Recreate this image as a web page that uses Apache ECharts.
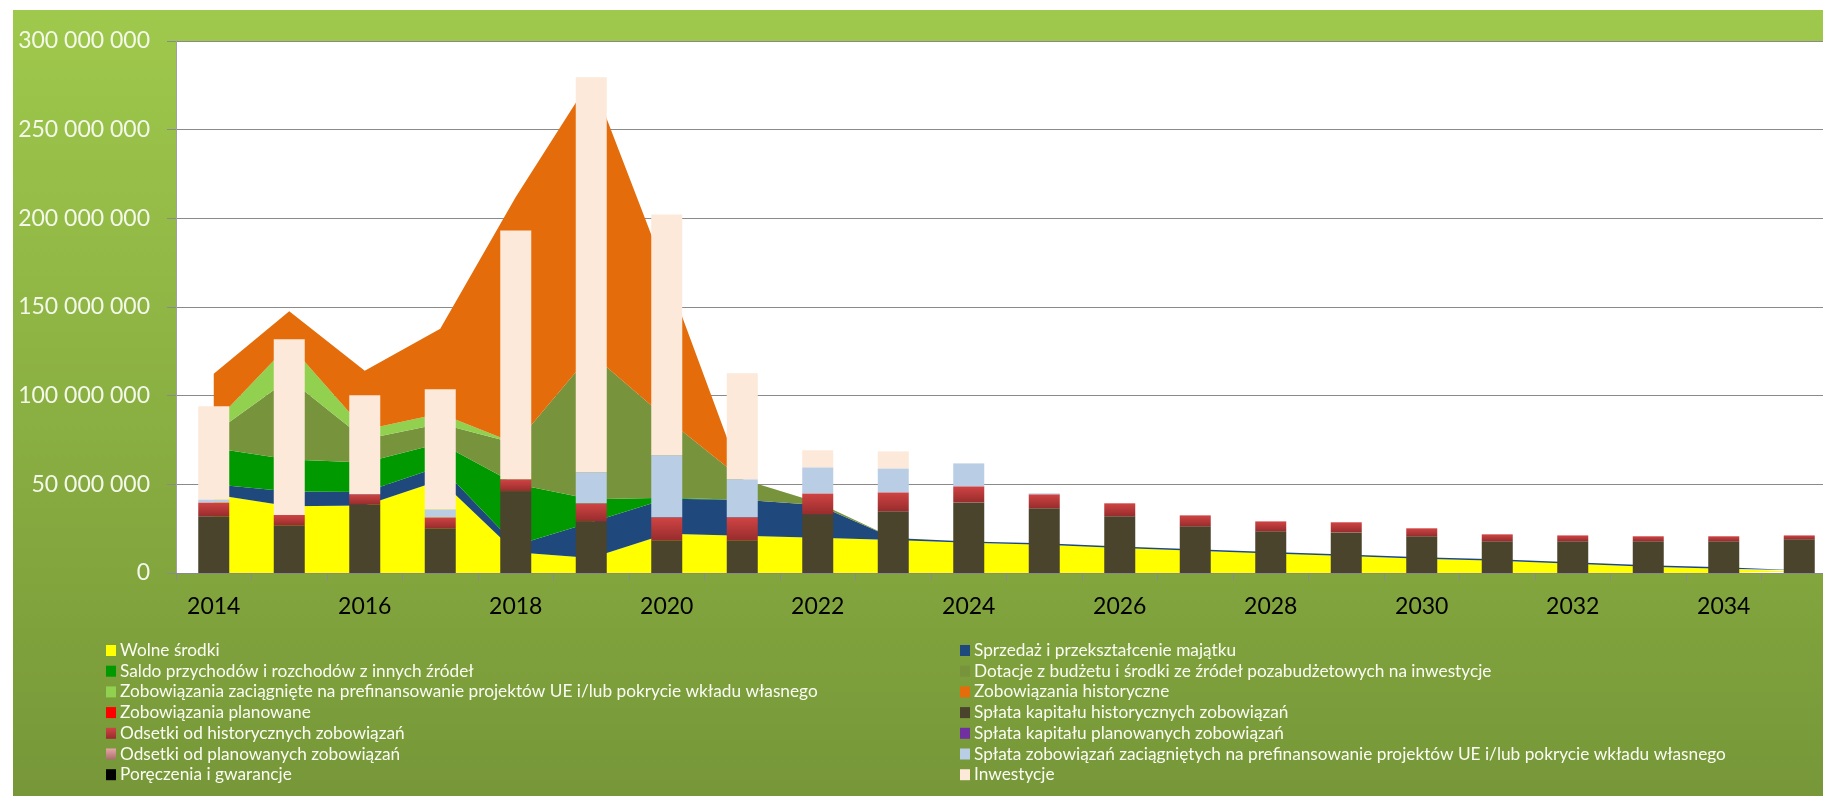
<!DOCTYPE html>
<html>
<head>
<meta charset="utf-8">
<script src="https://cdn.jsdelivr.net/npm/echarts@6/dist/echarts.min.js"></script>
<style>
  html, body { margin: 0; padding: 0; background: #ffffff; }
  #chart { width: 1823px; height: 796px; }
</style>
</head>
<body>
<div id="chart"></div>
<script>
// Lata prognozy
const years = ['2014','2015','2016','2017','2018','2019','2020','2021','2022','2023','2024',
               '2025','2026','2027','2028','2029','2030','2031','2032','2033','2034','2035'];

// Źródła finansowania (warstwy powierzchniowe), w mln zł
const wolneSrodki      = [44.2, 37.6, 38.0, 52.3, 11.7, 8.4, 22.2, 21.0, 19.9, 18.6, 17.0, 16.0, 14.1, 12.6, 11.0, 9.6, 8.1, 6.9, 5.2, 3.5, 2.4, 0.7];
const sprzedazMajatku  = [5.8, 8.4, 7.7, 7.7, 3.9, 20.2, 19.7, 20.3, 18.5, 1.1, 0.8, 0.8, 0.8, 0.8, 0.8, 0.8, 0.8, 0.8, 0.8, 0.8, 0.8, 0.8];
const saldoInnych      = [20.5, 18.0, 16.6, 13.1, 34.6, 13.0, 0.5, 0, 0, 0, 0, 0, 0, 0, 0, 0, 0, 0, 0, 0, 0, 0];
const dotacje          = [8.3, 45.4, 13.1, 11.1, 22.8, 82.1, 44.6, 11.5, 1.3, 0, 0, 0, 0, 0, 0, 0, 0, 0, 0, 0, 0, 0];
const zobPrefinans     = [5.6, 19.6, 5.4, 5.8, 0, 0, 0, 0, 0, 0, 0, 0, 0, 0, 0, 0, 0, 0, 0, 0, 0, 0];
const zobHistoryczne   = [28.0, 18.6, 33.3, 47.8, 139.0, 155.1, 81.0, 0, 0, 0, 0, 0, 0, 0, 0, 0, 0, 0, 0, 0, 0, 0];
const zobPlanowane     = [0, 0, 0, 0, 0, 0, 0, 0, 0, 0, 0, 0, 0, 0, 0, 0, 0, 0, 0, 0, 0, 0];

// Wydatki (słupki skumulowane), w mln zł
const splataKapHist    = [32.0, 26.9, 38.7, 25.2, 46.1, 29.1, 18.4, 18.4, 33.1, 34.8, 39.8, 36.5, 32.0, 26.3, 23.5, 22.9, 20.7, 17.9, 17.9, 17.9, 17.9, 19.0];
const odsetkiHist      = [7.8, 5.8, 5.7, 6.2, 6.7, 10.2, 13.0, 13.0, 11.8, 10.7, 9.1, 7.9, 7.3, 6.2, 5.6, 5.7, 4.5, 3.9, 3.3, 2.8, 2.8, 2.2];
const splataKapPlan    = [0, 0, 0, 0, 0, 0, 0, 0, 0, 0, 0, 0, 0, 0, 0, 0, 0, 0, 0, 0, 0, 0];
const odsetkiPlan      = [0, 0, 0, 0, 0, 0, 0, 0, 0, 0, 0, 0, 0, 0, 0, 0, 0, 0, 0, 0, 0, 0];
const splataPrefinans  = [1.7, 0, 0, 4.5, 0, 17.5, 35.0, 21.4, 14.7, 13.5, 12.9, 0.5, 0, 0, 0, 0, 0, 0, 0, 0, 0, 0];
const poreczenia       = [0, 0, 0, 0, 0, 0, 0, 0, 0, 0, 0, 0, 0, 0, 0, 0, 0, 0, 0, 0, 0, 0];
const inwestycje       = [52.5, 99.1, 55.8, 67.7, 140.4, 222.7, 135.7, 59.8, 9.6, 9.6, 0, 0, 0, 0, 0, 0, 0, 0, 0, 0, 0, 0];

// Oś wartości (mln zł)
const yMax = 300;
const yStep = 50;

const FONT = 'Lato, "Open Sans", sans-serif';

function grad(top, bottom) {
  return new echarts.graphic.LinearGradient(0, 0, 0, 1, [
    { offset: 0, color: top }, { offset: 1, color: bottom }
  ]);
}

function area(name, data, color) {
  return {
    name, type: 'line', stack: 'zrodla', data,
    symbol: 'none', smooth: false,
    lineStyle: { width: 0, color },
    itemStyle: { color },
    areaStyle: { color, opacity: 1 },
    emphasis: { disabled: true },
    z: 2
  };
}

function bar(name, data, color) {
  return {
    name, type: 'bar', stack: 'wydatki', data,
    barWidth: 31,
    itemStyle: { color },
    emphasis: { disabled: true },
    z: 3
  };
}

function fmtPln(v) {
  if (v === 0) return '0';
  return String(Math.round(v * 1e6)).replace(/\B(?=(\d{3})+(?!\d))/g, ' ');
}

const series = [
  area('Wolne środki', wolneSrodki, '#ffff00'),
  area('Sprzedaż i przekształcenie majątku', sprzedazMajatku, '#1f497d'),
  area('Saldo przychodów i rozchodów z innych źródeł', saldoInnych, '#009a00'),
  area('Dotacje z budżetu i środki ze źródeł pozabudżetowych na inwestycje', dotacje, '#77933c'),
  area('Zobowiązania zaciągnięte na prefinansowanie projektów UE i/lub pokrycie wkładu własnego', zobPrefinans, '#92d050'),
  area('Zobowiązania historyczne', zobHistoryczne, '#e46c0a'),
  area('Zobowiązania planowane', zobPlanowane, '#ff0000'),
  bar('Spłata kapitału historycznych zobowiązań', splataKapHist, '#4a442d'),
  bar('Odsetki od historycznych zobowiązań', odsetkiHist, grad('#d04444', '#982c2c')),
  bar('Spłata kapitału planowanych zobowiązań', splataKapPlan, '#7030a0'),
  bar('Odsetki od planowanych zobowiązań', odsetkiPlan, grad('#e6a7a6', '#a86e6d')),
  bar('Spłata zobowiązań zaciągniętych na prefinansowanie projektów UE i/lub pokrycie wkładu własnego', splataPrefinans, '#b9cde5'),
  bar('Poręczenia i gwarancje', poreczenia, '#000000'),
  bar('Inwestycje', inwestycje, '#fde9d9')
];

const legendLeft = [
  'Wolne środki',
  'Saldo przychodów i rozchodów z innych źródeł',
  'Zobowiązania zaciągnięte na prefinansowanie projektów UE i/lub pokrycie wkładu własnego',
  'Zobowiązania planowane',
  'Odsetki od historycznych zobowiązań',
  'Odsetki od planowanych zobowiązań',
  'Poręczenia i gwarancje'
];
const legendRight = [
  'Sprzedaż i przekształcenie majątku',
  'Dotacje z budżetu i środki ze źródeł pozabudżetowych na inwestycje',
  'Zobowiązania historyczne',
  'Spłata kapitału historycznych zobowiązań',
  'Spłata kapitału planowanych zobowiązań',
  'Spłata zobowiązań zaciągniętych na prefinansowanie projektów UE i/lub pokrycie wkładu własnego',
  'Inwestycje'
];

const legendBase = {
  orient: 'vertical',
  top: 642,
  itemWidth: 10,
  itemHeight: 11,
  itemGap: 3.7,
  icon: 'rect',
  selectedMode: false,
  padding: 0,
  textStyle: { color: '#fbfdf5', fontFamily: FONT, fontSize: 17.25, lineHeight: 16, padding: [0, 0, 0, -1] }
};

const chart = echarts.init(document.getElementById('chart'), null, { renderer: 'canvas' });
chart.setOption({
  animation: false,
  backgroundColor: '#ffffff',
  graphic: [{
    type: 'rect',
    z: -10,
    silent: true,
    shape: { x: 13, y: 10, width: 1830, height: 800 },
    style: { fill: grad('#9fc94c', '#769638') }
  }],
  grid: {
    left: 176, top: 41, width: 1661, height: 532,
    show: true, backgroundColor: '#ffffff', borderWidth: 0,
    containLabel: false,
    outerBoundsMode: 'none'
  },
  legend: [
    Object.assign({}, legendBase, { left: 106, data: legendLeft }),
    Object.assign({}, legendBase, { left: 960, data: legendRight })
  ],
  xAxis: {
    type: 'category',
    data: years,
    boundaryGap: true,
    axisLine: { show: true, lineStyle: { color: '#8a8a8a', width: 1 } },
    axisTick: { show: true, interval: 0, length: 7, lineStyle: { color: '#8a8a8a' } },
    axisLabel: { interval: 1, color: '#000000', fontFamily: FONT, fontSize: 23, margin: 22 },
    splitLine: { show: false }
  },
  yAxis: {
    type: 'value',
    min: 0, max: yMax, interval: yStep,
    axisLine: { show: true, lineStyle: { color: '#a0a0a0', width: 1 } },
    axisTick: { show: true, length: 9, lineStyle: { color: '#8a8a8a' } },
    axisLabel: { color: '#f4f8ea', fontFamily: FONT, fontSize: 23, margin: 26, formatter: fmtPln },
    splitLine: { show: true, lineStyle: { color: '#8a8a8a', width: 1 } }
  },
  series
});
</script>
</body>
</html>
